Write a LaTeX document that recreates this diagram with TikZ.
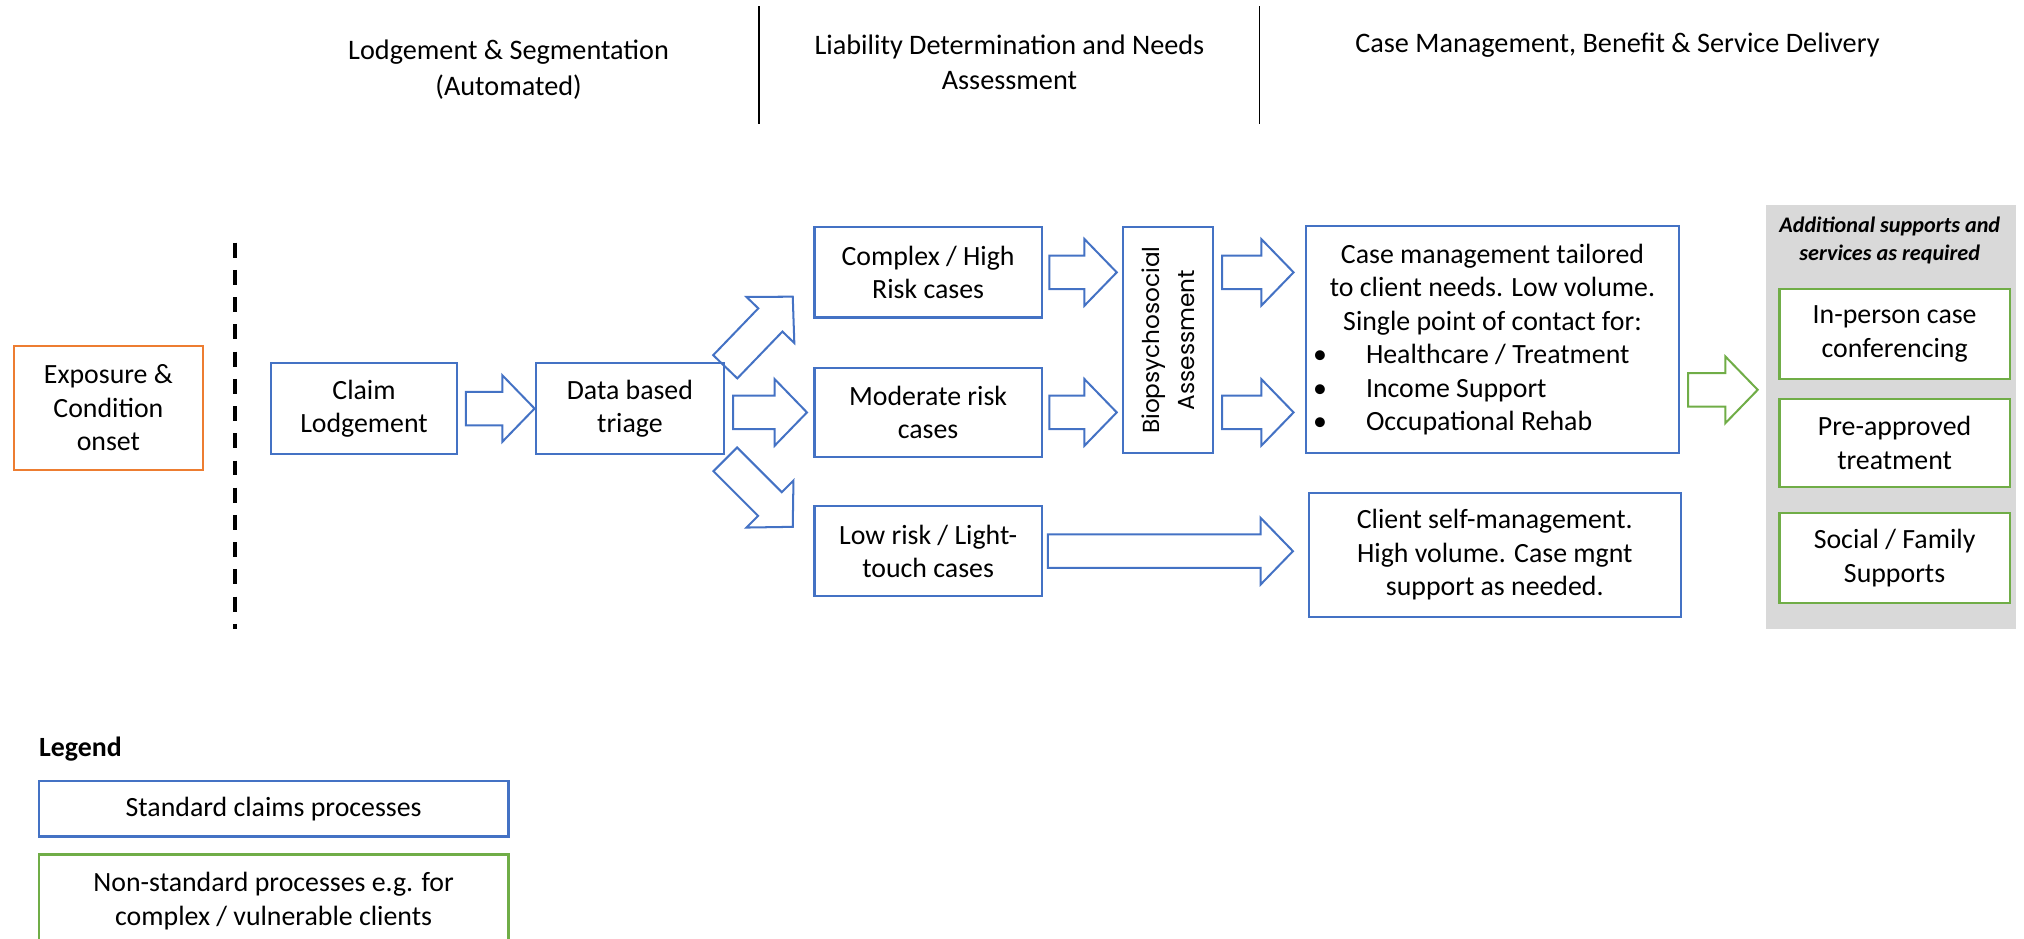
\documentclass[tikz,border=0pt]{standalone}
\usepackage{fontspec}
\setmainfont{Carlito}
\newfontfamily\biofont{Poppins}
\usetikzlibrary{calc}
\definecolor{stdblue}{HTML}{4472C4}
\definecolor{expoorange}{HTML}{ED7D31}
\definecolor{nsgreen}{HTML}{70AD47}
\definecolor{greybg}{HTML}{D9D9D9}
\newlength\unitpx
\setlength\unitpx{0.64pt}
\newcommand{\bulletline}[1]{\makebox[278\unitpx][l]{\makebox[41\unitpx][l]{\textbullet}#1}}
\tikzset{
  boxtext/.style={font=\fontsize{13.8}{16.6}\selectfont, align=center, inner sep=0pt},
  stdbox/.style={boxtext, draw=stdblue, line width=1.1pt, fill=white},
  nsbox/.style={boxtext, draw=nsgreen, line width=1.1pt, fill=white},
  expobox/.style={boxtext, draw=expoorange, line width=1.1pt},
  header/.style={font=\fontsize{14}{17.5}\selectfont, align=center},
  sepline/.style={line width=0.6pt},
  dashline/.style={line width=1.8pt, dash pattern=on 7.4pt off 6.1pt},
  blockarrow/.style={draw=stdblue, line width=1pt, line join=miter,
    to path={($(\tikztostart)!8.3pt!90:(\tikztotarget)$)
      -- ($(\tikztotarget)!16pt!(\tikztostart)!8.3pt!-90:(\tikztostart)$)
      -- ($(\tikztotarget)!16pt!(\tikztostart)!16.5pt!-90:(\tikztostart)$)
      -- (\tikztotarget)
      -- ($(\tikztotarget)!16pt!(\tikztostart)!16.5pt!90:(\tikztostart)$)
      -- ($(\tikztotarget)!16pt!(\tikztostart)!8.3pt!90:(\tikztostart)$)
      -- ($(\tikztostart)!8.3pt!-90:(\tikztotarget)$) -- cycle}},
}
\begin{document}
\begin{tikzpicture}[x=\unitpx, y=-\unitpx]
  \useasboundingbox (0,0) rectangle (1568,727);
  \clip (0,0) rectangle (1568,727);
  \node[header] (hdlodge) at (394,54) {Lodgement \& Segmentation\\(Automated)};
  \node[header] (hdliab) at (782,48.5) {Liability Determination and Needs\\Assessment};
  \node[header] (hdcase) at (1253,35) {Case Management, Benefit \& Service Delivery};
  \draw[sepline] (588,5) -- (588,96);
  \draw[sepline] (976,5) -- (976,96);
  \draw[dashline] (182,188) -- (182,487);

  \node[expobox, minimum width=146\unitpx, minimum height=96\unitpx] (expo) at (84,316) {Exposure \&\\Condition\\onset};
  \node[stdbox, minimum width=144\unitpx, minimum height=71\unitpx] (claim) at (282,316.5) {Claim\\Lodgement};
  \node[stdbox, minimum width=146\unitpx, minimum height=71\unitpx] (triage) at (488,316.5) {Data based\\triage};
  \node[stdbox, minimum width=176\unitpx, minimum height=70\unitpx] (complex) at (719,211) {Complex / High\\Risk cases};
  \node[stdbox, minimum width=176\unitpx, minimum height=69\unitpx] (moderate) at (719,319.5) {Moderate risk\\cases};
  \node[stdbox, minimum width=176\unitpx, minimum height=70\unitpx] (lowrisk) at (719,427) {Low risk / Light-\\touch cases};
  \node[stdbox, minimum width=69.5\unitpx, minimum height=175\unitpx] (bio) at (904.75,263.5) {};
  \node[rotate=90, font=\biofont\fontsize{11.5}{17.4}\selectfont, align=center] (biotext) at (bio.center) {Biopsychosocial\\Assessment};
  \node[stdbox, minimum width=289.5\unitpx, minimum height=176\unitpx] (casemgmt) at (1156.25,263) {Case management tailored\\to client needs. Low volume.\\Single point of contact for:\\\bulletline{Healthcare / Treatment}\\\bulletline{Income Support}\\\bulletline{Occupational Rehab}};
  \node[stdbox, minimum width=288\unitpx, minimum height=96\unitpx] (selfmgmt) at (1158,430) {Client self-management.\\High volume. Case mgnt\\support as needed.};

  \node[fill=greybg, minimum width=194\unitpx, minimum height=328\unitpx] (extras) at (1465,323) {};
  \node[font=\fontsize{11}{14}\selectfont\bfseries\itshape, align=center] (extitle) at (1464,186.5) {Additional supports and\\services as required};
  \node[nsbox, minimum width=178.5\unitpx, minimum height=69.6\unitpx] (inperson) at (1467.75,258.8) {In-person case\\conferencing};
  \node[nsbox, minimum width=178.5\unitpx, minimum height=68.5\unitpx] (preappr) at (1467.75,343.25) {Pre-approved\\treatment};
  \node[nsbox, minimum width=178.5\unitpx, minimum height=69.7\unitpx] (social) at (1467.75,432.5) {Social / Family\\Supports};

  \draw[blockarrow] ([xshift=6\unitpx]claim.east) to (triage.west);
  \draw[blockarrow] ([xshift=6\unitpx]triage.east |- moderate.west) to ([xshift=-5\unitpx]moderate.west);
  \draw[blockarrow] ([yshift=-4\unitpx]triage.north east) to ([shift={(-16,-17)}]complex.south west);
  \draw[blockarrow] ([yshift=-3\unitpx]triage.south east) to ([shift={(-16,17)}]lowrisk.north west);
  \draw[blockarrow] ([xshift=5\unitpx]complex.east) to ([xshift=-4\unitpx]bio.west |- complex.east);
  \draw[blockarrow] ([xshift=5\unitpx]moderate.east) to ([xshift=-4\unitpx]bio.west |- moderate.east);
  \draw[blockarrow] ([xshift=6.5\unitpx]bio.east |- complex.east) to ([xshift=-8.5\unitpx]casemgmt.west |- complex.east);
  \draw[blockarrow] ([xshift=6.5\unitpx]bio.east |- moderate.east) to ([xshift=-8.5\unitpx]casemgmt.west |- moderate.east);
  \draw[blockarrow] ([xshift=4\unitpx]lowrisk.east) to ([xshift=-11.5\unitpx]selfmgmt.west |- lowrisk.east);
  \draw[blockarrow, draw=nsgreen] ([shift={(6,39)}]casemgmt.east) to ([shift={(-6,-21)}]extras.west);

  \node[font=\fontsize{13.8}{16.6}\selectfont\bfseries, anchor=west, inner sep=0pt] (legtitle) at (30,580) {Legend};
  \node[stdbox, minimum width=364\unitpx, minimum height=43\unitpx] (legstd) at (212,626.5) {Standard claims processes};
  \node[nsbox, minimum width=364\unitpx, minimum height=72\unitpx] (legns) at (212,698) {Non-standard processes e.g. for\\complex / vulnerable clients};
\end{tikzpicture}
\end{document}
